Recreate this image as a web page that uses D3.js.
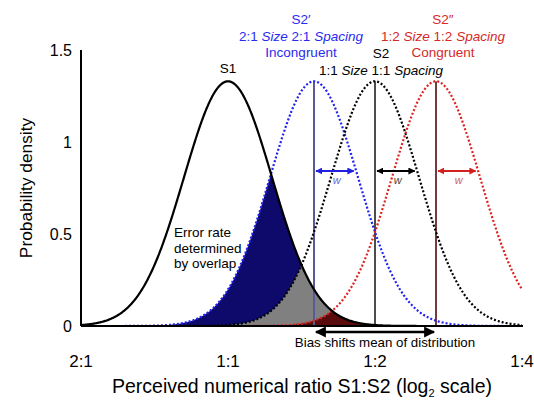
<!DOCTYPE html>
<html>
<head>
<meta charset="utf-8">
<script src="https://cdn.jsdelivr.net/npm/d3@7"></script>
<style>
body { margin: 0; background: #fff; }
text { font-family: "Liberation Sans", Arial, sans-serif; }
</style>
</head>
<body>
<svg id="chart" width="534" height="401"></svg>
<script>
// log2 ratio positions of the four ticks
var tickValues = [-1, 0, 1, 2];
var tickLabels = ["2:1", "1:1", "1:2", "1:4"];
var yTicks = [0, 0.5, 1, 1.5];

// distributions (means on log2 axis, common sd)
var distNames = ["S1", "S2'", "S2", "S2''"];
var distMeans = [0, 0.585, 1, 1.415];
var distSd = 0.3;

var svg = d3.select("#chart");
var margin = { top: 50, right: 12, bottom: 75, left: 81 };
var width = +svg.attr("width") - margin.left - margin.right;
var height = +svg.attr("height") - margin.top - margin.bottom;
var g = svg.append("g").attr("transform", "translate(" + margin.left + "," + margin.top + ")");

var x = d3.scaleLinear().domain([-1, 2]).range([0, width]);
var y = d3.scaleLinear().domain([0, 1.5]).range([height, 0]);

function pdf(v, m) {
  return Math.exp(-(v - m) * (v - m) / (2 * distSd * distSd)) / (distSd * Math.sqrt(2 * Math.PI));
}
var xs = d3.range(-1, 2.0001, 0.005);

var defs = svg.append("defs");
function marker(id, color, w, h) {
  defs.append("marker").attr("id", id).attr("viewBox", "0 0 10 10")
    .attr("refX", 9).attr("refY", 5).attr("markerUnits", "userSpaceOnUse")
    .attr("markerWidth", w).attr("markerHeight", h).attr("orient", "auto-start-reverse")
    .append("path").attr("d", "M0,0L10,5L0,10Z").attr("fill", color);
}
marker("ab", "#2020e0", 7, 7);
marker("ak", "#000", 7, 7);
marker("ar", "#d02020", 7, 7);
marker("abig", "#000", 14, 11);

// overlap fills
var fillCols = ["#0d0a6b", "#808080", "#5a0c0c"];
[1, 2, 3].forEach(function (k, i) {
  var area = d3.area()
    .x(function (d) { return x(d); })
    .y0(height)
    .y1(function (d) { return y(Math.min(pdf(d, distMeans[0]), pdf(d, distMeans[k]))); });
  g.append("path").datum(xs).attr("d", area).attr("fill", fillCols[i]);
});

// vertical mean lines
var vCols = ["#5a5a96", "#4d4d4d", "#703c3c"];
[1, 2, 3].forEach(function (k, i) {
  g.append("line")
    .attr("x1", x(distMeans[k])).attr("x2", x(distMeans[k]))
    .attr("y1", height).attr("y2", y(pdf(distMeans[k], distMeans[k])))
    .attr("stroke", vCols[i]).attr("stroke-width", 2);
});

// curves
var line = function (m) {
  return d3.line().x(function (d) { return x(d); }).y(function (d) { return y(pdf(d, m)); })(xs);
};
var curveCols = ["#000", "#2222ee", "#000", "#dd2222"];
[1, 2, 3].forEach(function (k) {
  g.append("path").attr("d", line(distMeans[k])).attr("fill", "none")
    .attr("stroke", curveCols[k]).attr("stroke-width", 2.2).attr("stroke-dasharray", "2,2");
});
g.append("path").attr("d", line(distMeans[0])).attr("fill", "none")
  .attr("stroke", "#000").attr("stroke-width", 2.2);

// axes
g.append("line").attr("x1", 0).attr("x2", 0).attr("y1", 0).attr("y2", height)
  .attr("stroke", "#000").attr("stroke-width", 2);
g.append("line").attr("x1", 0).attr("x2", width + 1).attr("y1", height).attr("y2", height)
  .attr("stroke", "#000").attr("stroke-width", 2);

g.selectAll(".ytick").data(yTicks).enter().append("text")
  .attr("x", -9).attr("y", function (d) { return y(d); }).attr("dy", "0.35em")
  .attr("text-anchor", "end").attr("font-size", 16).text(function (d) { return d; });

g.selectAll(".xtick").data(tickValues).enter().append("text")
  .attr("x", function (d) { return x(d); }).attr("y", height + 41)
  .attr("text-anchor", "middle").attr("font-size", 17)
  .text(function (d, i) { return tickLabels[i]; });

var xt = svg.append("text").attr("x", 302).attr("y", 393).attr("text-anchor", "middle").attr("font-size", 19.5);
xt.append("tspan").text("Perceived numerical ratio S1:S2 (log");
xt.append("tspan").attr("font-size", 11).attr("dy", 3.5).text("2");
xt.append("tspan").attr("dy", -3.5).text(" scale)");

svg.append("text").attr("transform", "translate(32,188) rotate(-90)")
  .attr("text-anchor", "middle").attr("font-size", 17.3).text("Probability density");

// width arrows
var wCols = [["#2020e0", "#6a6ad0", "ab"], ["#000", "#444", "ak"], ["#d02020", "#d06060", "ar"]];
[1, 2, 3].forEach(function (k, i) {
  var x0 = x(distMeans[k]) + 2, x1 = x(distMeans[k] + 0.27);
  g.append("line").attr("x1", x0).attr("x2", x1).attr("y1", 121).attr("y2", 121)
    .attr("stroke", wCols[i][0]).attr("stroke-width", 2)
    .attr("marker-start", "url(#" + wCols[i][2] + ")").attr("marker-end", "url(#" + wCols[i][2] + ")");
  g.append("text").attr("x", (x0 + x1) / 2 + 2).attr("y", 134).attr("text-anchor", "middle")
    .attr("font-size", 11).attr("font-style", "italic").attr("fill", wCols[i][1]).text("w");
});

// bias arrow
g.append("line").attr("x1", x(distMeans[1]) + 2).attr("x2", x(distMeans[3]) - 2).attr("y1", 282).attr("y2", 282)
  .attr("stroke", "#000").attr("stroke-width", 2.5)
  .attr("marker-start", "url(#abig)").attr("marker-end", "url(#abig)");
g.append("text").attr("x", 304).attr("y", 297)
  .attr("text-anchor", "middle").attr("font-size", 13.3).text("Bias shifts mean of distribution");

// labels
function label(lines, cx, y0, col) {
  lines.forEach(function (ln, i) {
    var t = svg.append("text").attr("x", cx).attr("y", y0 + i * 16.5).attr("text-anchor", "middle")
      .attr("font-size", 13.5).attr("fill", col);
    ln.forEach(function (part) {
      t.append("tspan").attr("font-style", part[1] ? "italic" : null).text(part[0]);
    });
  });
}
label([[["S1", 0]]], 228, 73, "#000");
label([[["S2", 0]], [["1:1 ", 0], ["Size", 1], [" 1:1 ", 0], ["Spacing", 1]]], 381, 58, "#000");
label([[["S2\u2032", 0]], [["2:1 ", 0], ["Size", 1], [" 2:1 ", 0], ["Spacing", 1]], [["Incongruent", 0]]], 301, 24, "#2a2af0");
label([[["S2\u2033", 0]], [["1:2 ", 0], ["Size", 1], [" 1:2 ", 0], ["Spacing", 1]], [["Congruent", 0]]], 443, 24, "#d42a2a");

var err = ["Error rate", "determined", "by overlap"];
svg.selectAll(".err").data(err).enter().append("text")
  .attr("x", 174).attr("y", function (d, i) { return 237 + i * 15.5; })
  .attr("font-size", 13.5).text(function (d) { return d; });
</script>
</body>
</html>
